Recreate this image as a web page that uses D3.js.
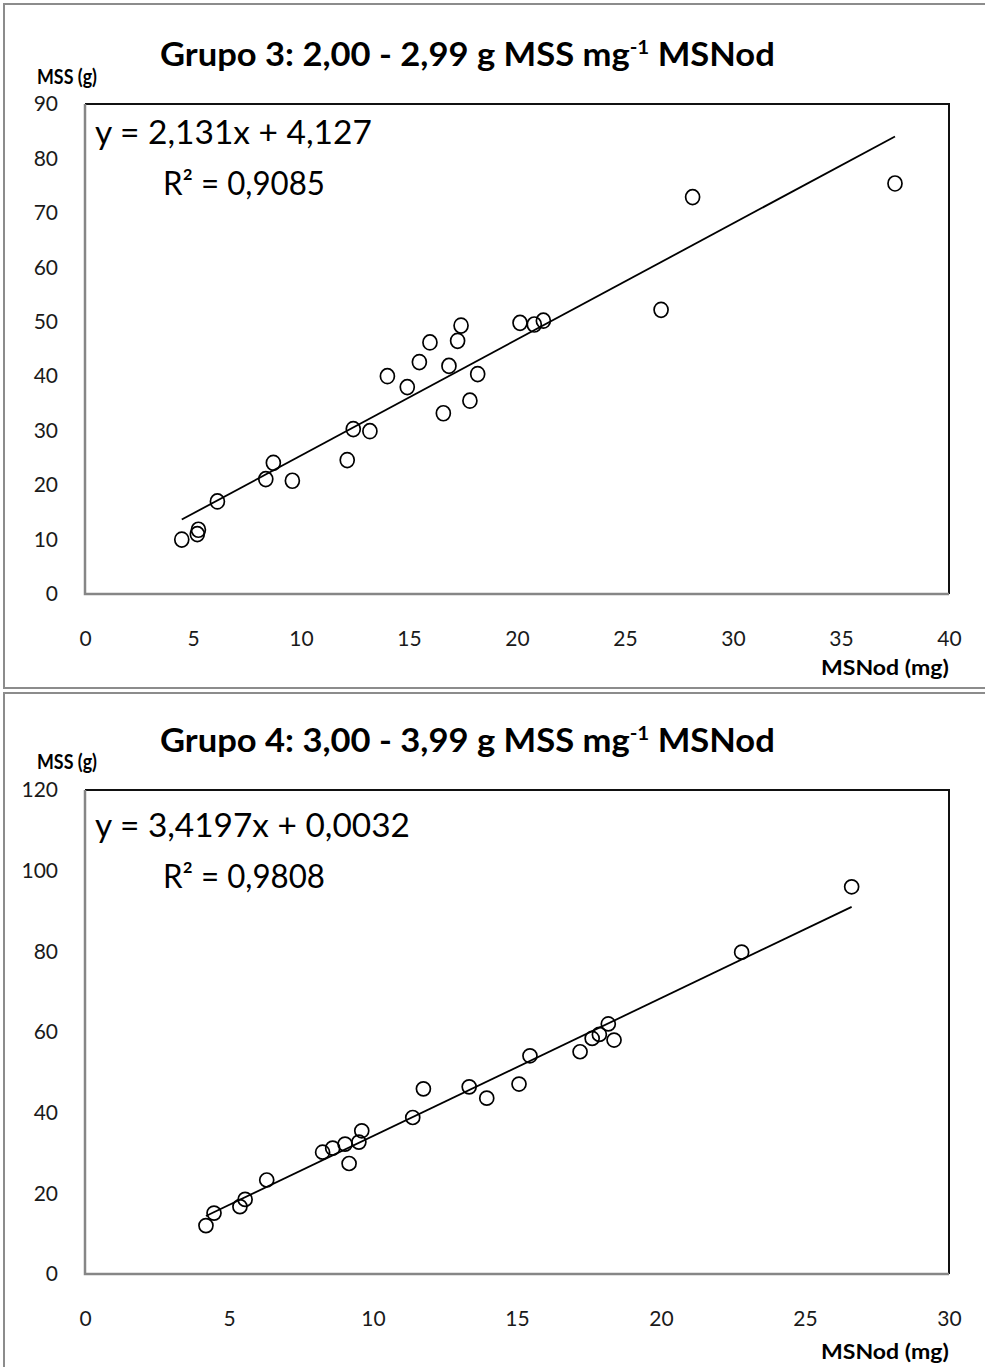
<!DOCTYPE html>
<html>
<head>
<meta charset="utf-8">
<script src="https://cdn.jsdelivr.net/npm/d3@7"></script>
<style>
  html, body { margin: 0; padding: 0; background: #fff; }
  svg { display: block; font-family: Lato, "Open Sans", sans-serif; }
</style>
</head>
<body>
<svg id="chart" width="985" height="1367"></svg>
<script>
// ---- Grupo 3: MSNod (mg) vs MSS (g) ----
const g3X = [4.48, 5.25, 5.20, 6.13, 8.37, 8.72, 9.60, 12.14, 12.42, 13.19,
             14.00, 14.92, 15.48, 15.97, 16.85, 16.59, 17.25, 17.41, 17.82, 18.18,
             20.14, 20.80, 21.22, 26.67, 28.13, 37.50];
const g3Y = [10.0, 11.8, 11.0, 17.0, 21.1, 24.1, 20.8, 24.6, 30.3, 29.9,
             40.0, 38.0, 42.6, 46.2, 41.9, 33.2, 46.5, 49.3, 35.5, 40.4,
             49.8, 49.5, 50.2, 52.2, 72.9, 75.4];
const g3Fit = [2.131, 4.127];          // slope, intercept
const g3R2 = "0,9085";
const g3XTicks = [0, 5, 10, 15, 20, 25, 30, 35, 40];
const g3YTicks = [0, 10, 20, 30, 40, 50, 60, 70, 80, 90];

// ---- Grupo 4: MSNod (mg) vs MSS (g) ----
const g4X = [4.20, 4.48, 5.38, 5.56, 6.31, 8.25, 8.60, 9.03, 9.17, 9.51,
             9.61, 11.38, 11.75, 13.34, 13.95, 15.07, 15.45, 17.19, 17.61, 17.86,
             18.17, 18.37, 22.80, 26.62];
const g4Y = [12.0, 15.1, 16.7, 18.5, 23.3, 30.2, 31.2, 32.2, 27.4, 32.7,
             35.5, 38.8, 45.9, 46.4, 43.6, 47.1, 54.1, 55.1, 58.4, 59.4,
             62.0, 58.0, 79.8, 96.0];
const g4Fit = [3.4197, 0.0032];
const g4R2 = "0,9808";
const g4XTicks = [0, 5, 10, 15, 20, 25, 30];
const g4YTicks = [0, 20, 40, 60, 80, 100, 120];

const svg = d3.select("#chart");
const fmt = v => String(v).replace(".", ",");

// squeeze a text element horizontally so it spans the given width
function fit(sel, x, y, width) {
  const w = sel.node().getBBox().width;
  sel.attr("transform", `translate(${x},${y}) scale(${width / w},1)`);
}

function panel(o) {
  const g = svg.append("g");

  // outer chart frame
  g.append("rect")
    .attr("x", 4).attr("y", o.frameTop)
    .attr("width", 1000).attr("height", o.frameH)
    .attr("fill", "#fff").attr("stroke", "#8c8c8c").attr("stroke-width", 2);

  const x = d3.scaleLinear().domain([0, d3.max(o.xTicks)]).range([o.left, o.right]);
  const y = d3.scaleLinear().domain([0, d3.max(o.yTicks)]).range([o.bottom, o.top]);

  // title with superscript exponent
  const t = g.append("text").attr("font-weight", 700).attr("font-size", 32).attr("fill", "#000");
  t.append("tspan").text(o.title);
  t.append("tspan").attr("font-size", 19).attr("dy", -12).text("-1");
  t.append("tspan").attr("dy", 12).text(" MSNod");
  fit(t, 160, o.titleY, 615);

  // axis titles
  const yt = g.append("text").attr("font-weight", 700).attr("font-size", 21).text("MSS (g)");
  fit(yt, 37, o.yTitleY, 60);
  const xt = g.append("text").attr("font-weight", 700).attr("font-size", 21).text("MSNod (mg)");
  fit(xt, 821, o.xTitleY, 128);

  // axes (labels only, no tick marks)
  const ax = g.append("g").attr("transform", `translate(0,${o.bottom})`)
    .call(d3.axisBottom(x).tickValues(o.xTicks).tickSize(0).tickPadding(37).tickFormat(d => d));
  const ay = g.append("g").attr("transform", `translate(${o.left},0)`)
    .call(d3.axisLeft(y).tickValues(o.yTicks).tickSize(0).tickPadding(27).tickFormat(d => d));
  [ax, ay].forEach(a => {
    a.select(".domain").remove();
    a.selectAll("text").attr("font-size", 21).attr("font-family", "Lato, sans-serif").attr("fill", "#1a1a1a");
  });

  // plot area frame: dark top/right, grey axis lines left/bottom
  g.append("path")
    .attr("d", `M${o.left},${o.top}H${o.right}V${o.bottom}`)
    .attr("fill", "none").attr("stroke", "#111").attr("stroke-width", 2);
  g.append("path")
    .attr("d", `M${o.left},${o.top}V${o.bottom}H${o.right}`)
    .attr("fill", "none").attr("stroke", "#868686").attr("stroke-width", 2.5);

  // linear trend line over the data range
  const [a, b] = o.fit;
  const x0 = d3.min(o.xs), x1 = d3.max(o.xs);
  g.append("line")
    .attr("x1", x(x0)).attr("y1", y(a * x0 + b))
    .attr("x2", x(x1)).attr("y2", y(a * x1 + b))
    .attr("stroke", "#000").attr("stroke-width", 1.8);

  // hollow markers
  g.selectAll("ellipse.pt").data(o.xs.map((v, i) => [v, o.ys[i]]))
    .join("ellipse").attr("class", "pt")
    .attr("cx", d => x(d[0])).attr("cy", d => y(d[1]))
    .attr("rx", o.rx).attr("ry", o.ry)
    .attr("fill", "none").attr("stroke", "#000").attr("stroke-width", 1.7);

  // regression equation and R²
  const eq = g.append("text").attr("font-size", 32).attr("fill", "#000")
    .text(`y = ${fmt(a)}x + ${fmt(b)}`);
  fit(eq, 95, o.eqY, o.eqW);
  const r2 = g.append("text").attr("font-size", 32).attr("fill", "#000")
    .text(`R² = ${o.r2}`);
  fit(r2, 163, o.eqY + 51, 162);
}

panel({
  frameTop: 4, frameH: 684,
  left: 85, right: 949, top: 104, bottom: 594,
  xTicks: g3XTicks, yTicks: g3YTicks, xs: g3X, ys: g3Y, fit: g3Fit, r2: g3R2,
  title: "Grupo 3: 2,00 - 2,99 g MSS mg",
  titleY: 66, yTitleY: 84, xTitleY: 675,
  eqY: 144, eqW: 277, rx: 7, ry: 7.5
});

panel({
  frameTop: 693, frameH: 700,
  left: 85, right: 949, top: 790, bottom: 1274,
  xTicks: g4XTicks, yTicks: g4YTicks, xs: g4X, ys: g4Y, fit: g4Fit, r2: g4R2,
  title: "Grupo 4: 3,00 - 3,99 g MSS mg",
  titleY: 752, yTitleY: 769, xTitleY: 1359,
  eqY: 837, eqW: 315, rx: 7, ry: 7
});
</script>
</body>
</html>
